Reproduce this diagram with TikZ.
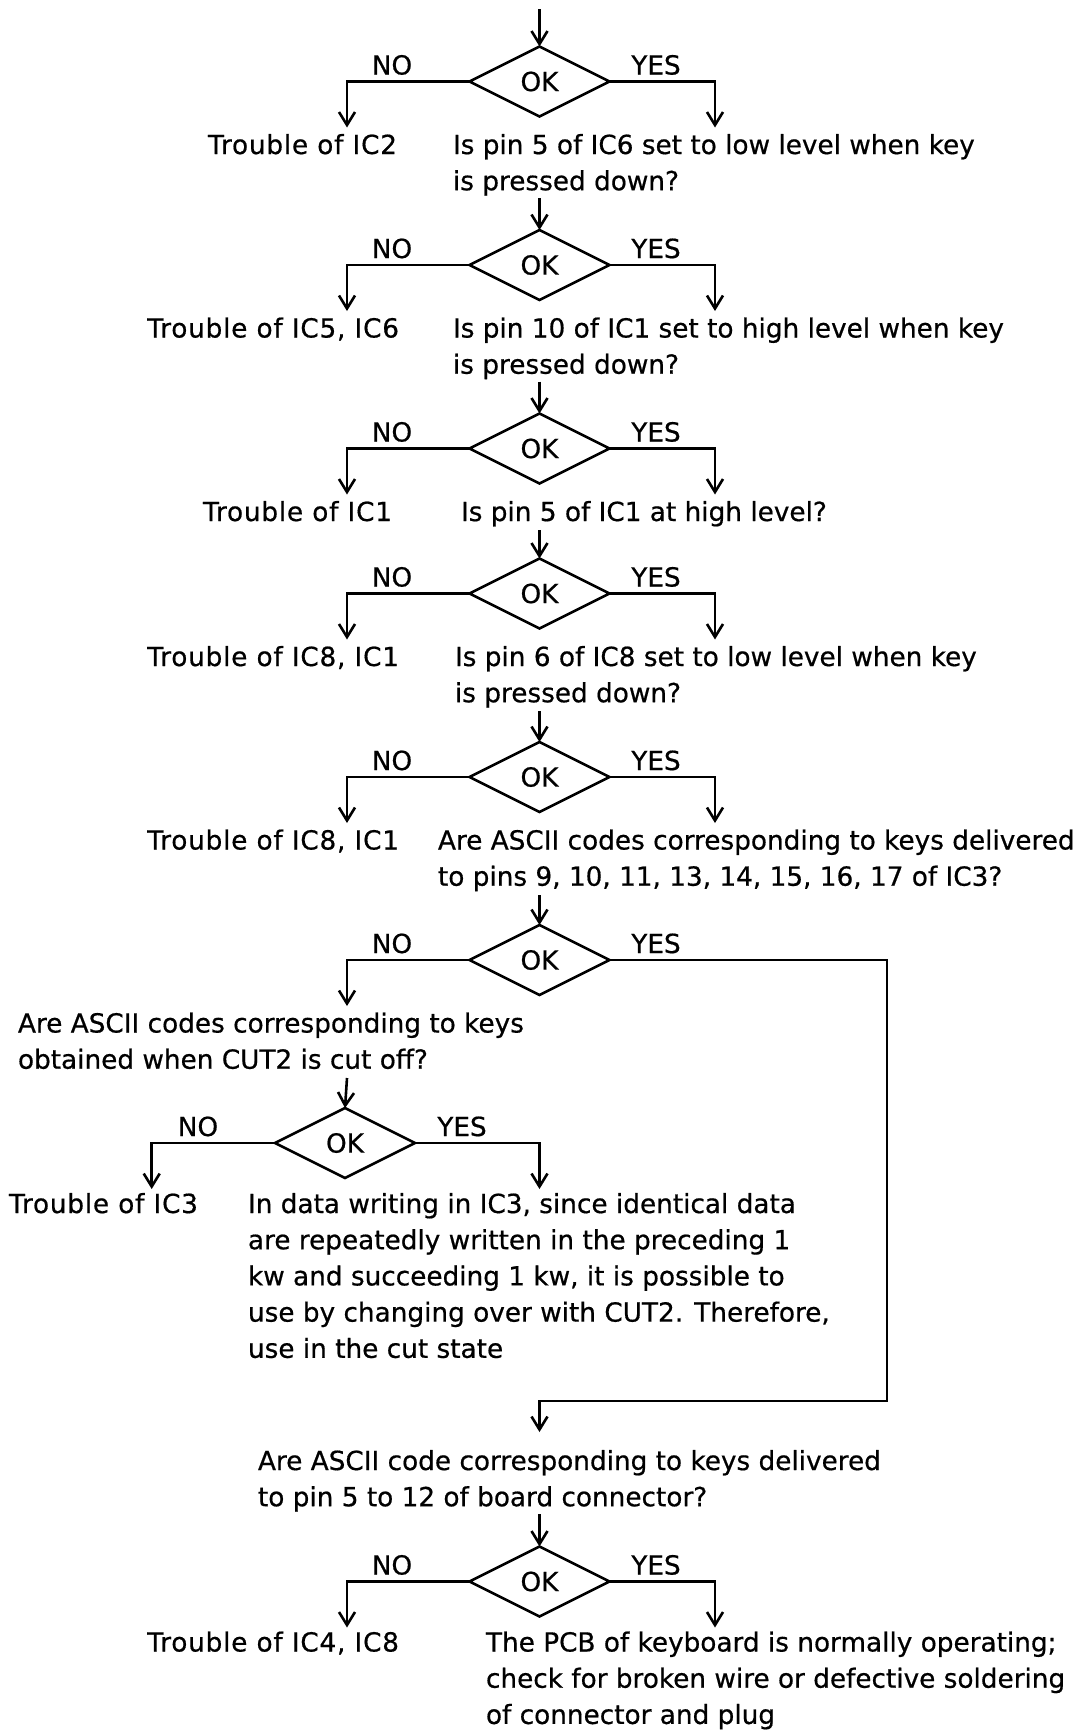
\documentclass[tikz,border=0pt]{standalone}
\usepackage{fontspec}
\setmainfont{DejaVu Sans}[FakeBold=0.6]
\usetikzlibrary{shapes.geometric,arrows.meta}
\newcommand{\mlines}[1]{\begin{tabular}[t]{@{}l@{}}#1\end{tabular}}
\tikzset{
  lw/.style={line width=2.6pt},
  arr/.style={lw,-{Straight Barb[length=13pt,width=16pt]}},
  okbox/.style={draw,lw,shape=diamond,minimum width=140pt,minimum height=70pt,inner sep=0pt,outer sep=0pt,font=\fontsize{26.3}{36.2}\selectfont},
  txt/.style={inner sep=0pt,outer sep=0pt,font=\fontsize{26.3}{36.2}\selectfont},
  trb/.style={txt,font=\fontsize{26.3}{36.2}\selectfont\addfontfeature{LetterSpace=3}},
  lbl/.style={txt,anchor=base},
}
\begin{document}
\begin{tikzpicture}[x=1pt,y=-1pt]
\useasboundingbox (0,0) rectangle (1083,1733);
% ---------- block 1
\coordinate (start) at (539.5,9);
\node[okbox] (d1) at (539.5,81.5) {OK};
\draw[arr] (start) -- (d1.north);
\node[lbl] (no1) at (392,74.5) {NO};
\node[lbl] (yes1) at (656,74.5) {YES};
\coordinate (n1) at (347,127.5);
\coordinate (y1) at (715,127.5);
\draw[arr] (d1.west) -| (n1);
\draw[arr] (d1.east) -| (y1);
\node[trb,anchor=base east] (t1) at (397,154) {Trouble of IC2};
\node[txt,anchor=base west] (q1) at (453,154) {\mlines{Is pin 5 of IC6 set to low level when key\\is pressed down?}};
% ---------- block 2
\node[okbox] (d2) at (539.5,265) {OK};
\coordinate (s2) at (539.5,198);
\draw[arr] (s2) -- (d2.north);
\node[lbl] (no2) at (392,258) {NO};
\node[lbl] (yes2) at (656,258) {YES};
\coordinate (n2) at (347,311);
\coordinate (y2) at (715,311);
\draw[arr] (d2.west) -| (n2);
\draw[arr] (d2.east) -| (y2);
\node[trb,anchor=base east] (t2) at (399,337.5) {Trouble of IC5, IC6};
\node[txt,anchor=base west] (q2) at (453,337.5) {\mlines{Is pin 10 of IC1 set to high level when key\\is pressed down?}};
% ---------- block 3
\node[okbox] (d3) at (539.5,448.5) {OK};
\coordinate (s3) at (539.5,381.5);
\draw[arr] (s3) -- (d3.north);
\node[lbl] (no3) at (392,441.5) {NO};
\node[lbl] (yes3) at (656,441.5) {YES};
\coordinate (n3) at (347,494.5);
\coordinate (y3) at (715,494.5);
\draw[arr] (d3.west) -| (n3);
\draw[arr] (d3.east) -| (y3);
\node[trb,anchor=base east] (t3) at (392,521) {Trouble of IC1};
\node[txt,anchor=base west] (q3) at (461,521) {Is pin 5 of IC1 at high level?};
% ---------- block 4
\node[okbox] (d4) at (539.5,593.5) {OK};
\coordinate (s4) at (539.5,530);
\draw[arr] (s4) -- (d4.north);
\node[lbl] (no4) at (392,586.5) {NO};
\node[lbl] (yes4) at (656,586.5) {YES};
\coordinate (n4) at (347,639.5);
\coordinate (y4) at (715,639.5);
\draw[arr] (d4.west) -| (n4);
\draw[arr] (d4.east) -| (y4);
\node[trb,anchor=base east] (t4) at (399,666) {Trouble of IC8, IC1};
\node[txt,anchor=base west] (q4) at (455,666) {\mlines{Is pin 6 of IC8 set to low level when key\\is pressed down?}};
% ---------- block 5
\node[okbox] (d5) at (539.5,777) {OK};
\coordinate (s5) at (539.5,711);
\draw[arr] (s5) -- (d5.north);
\node[lbl] (no5) at (392,770) {NO};
\node[lbl] (yes5) at (656,770) {YES};
\coordinate (n5) at (347,823);
\coordinate (y5) at (715,823);
\draw[arr] (d5.west) -| (n5);
\draw[arr] (d5.east) -| (y5);
\node[trb,anchor=base east] (t5) at (399,849.5) {Trouble of IC8, IC1};
\node[txt,anchor=base west] (q5) at (438,849.5) {\mlines{Are ASCII codes corresponding to keys delivered\\to pins 9, 10, 11, 13, 14, 15, 16, 17 of IC3?}};
% ---------- block 6
\node[okbox] (d6) at (539.5,960) {OK};
\coordinate (s6) at (539.5,895);
\draw[arr] (s6) -- (d6.north);
\node[lbl] (no6) at (392,953) {NO};
\node[lbl] (yes6) at (656,953) {YES};
\coordinate (n6) at (347,1006);
\draw[arr] (d6.west) -| (n6);
\coordinate (lpA) at (887,1401);
\coordinate (lpB) at (539.5,1432);
\draw[arr] (d6.east) -| (lpA) -| (lpB);
\node[txt,anchor=base west] (q6) at (18,1032.5) {\mlines{Are ASCII codes corresponding to keys\\obtained when CUT2 is cut off?}};
% ---------- block 7
\node[okbox] (d7) at (345,1143) {OK};
\coordinate (s7) at (347,1078);
\draw[arr] (s7) -- (d7.north);
\node[lbl] (no7) at (198,1136) {NO};
\node[lbl] (yes7) at (462,1136) {YES};
\coordinate (n7) at (151.7,1189);
\coordinate (y7) at (539.5,1189);
\draw[arr] (d7.west) -| (n7);
\draw[arr] (d7.east) -| (y7);
\node[trb,anchor=base west] (t7) at (9,1213) {Trouble of IC3};
\node[txt,anchor=base west] (q7) at (248,1213) {\mlines{In data writing in IC3, since identical data\\are repeatedly written in the preceding 1\\kw and succeeding 1 kw, it is possible to\\use by changing over with CUT2. Therefore,\\use in the cut state}};
% ---------- block 8
\node[txt,anchor=base west] (q8) at (258,1470) {\mlines{Are ASCII code corresponding to keys delivered\\to pin 5 to 12 of board connector?}};
\node[okbox] (d8) at (539.5,1581.5) {OK};
\coordinate (s8) at (539.5,1514);
\draw[arr] (s8) -- (d8.north);
\node[lbl] (no8) at (392,1574.5) {NO};
\node[lbl] (yes8) at (656,1574.5) {YES};
\coordinate (n8) at (347,1627.5);
\coordinate (y8) at (715,1627.5);
\draw[arr] (d8.west) -| (n8);
\draw[arr] (d8.east) -| (y8);
\node[trb,anchor=base east] (t8) at (399,1651.5) {Trouble of IC4, IC8};
\node[txt,anchor=base west] (r8) at (486,1651.5) {\mlines{The PCB of keyboard is normally operating;\\check for broken wire or defective soldering\\of connector and plug}};
\end{tikzpicture}
\end{document}
